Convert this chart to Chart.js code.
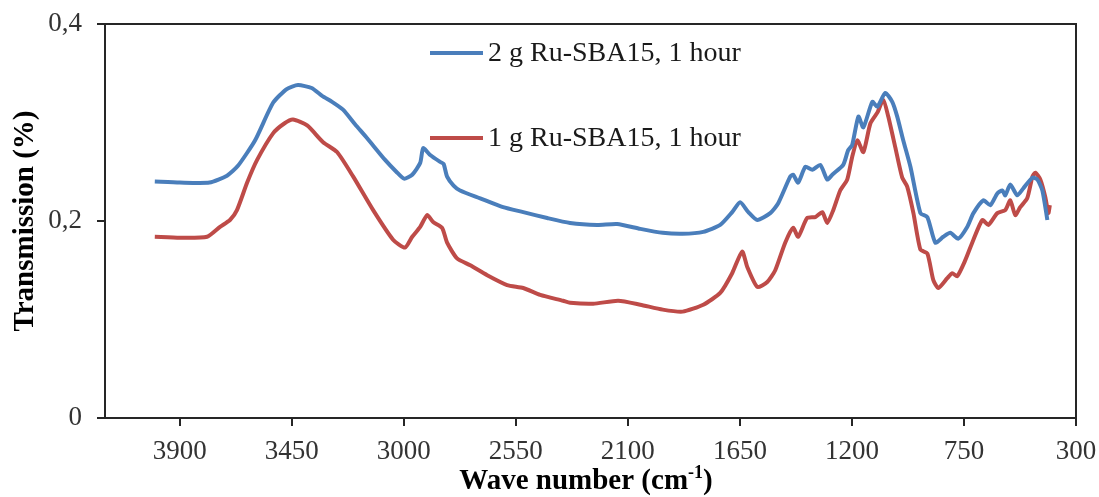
<!DOCTYPE html>
<html>
<head>
<meta charset="utf-8">
<script src="https://cdn.jsdelivr.net/npm/chart.js@4.4.1/dist/chart.umd.min.js"></script>
<style>
  body { margin: 0; background: #fff; }
  #wrap { width: 1099px; height: 497px; }
</style>
</head>
<body>
<div id="wrap"><canvas id="ftirChart" width="1099" height="497"></canvas></div>
<script>
// wave numbers (cm-1) and transmission
var blueWave = [4000, 3900, 3780, 3710, 3666, 3597, 3525, 3470, 3425, 3370, 3328, 3288, 3244, 3195, 3147, 3075, 3030, 2999, 2966, 2934, 2922, 2894, 2854, 2840, 2826, 2800, 2774, 2693, 2601, 2520, 2424, 2332, 2223, 2143, 2050, 1960, 1880, 1797, 1729, 1681, 1649, 1616, 1580, 1528, 1496, 1448, 1436, 1416, 1387, 1359, 1327, 1299, 1279, 1235, 1215, 1199, 1174, 1154, 1118, 1098, 1066, 1038, 1018, 994, 965, 925, 897, 865, 833, 805, 773, 737, 712, 672, 644, 616, 596, 584, 564, 536, 512, 475, 455, 435, 415];
var blueTrans = [0.240, 0.239, 0.239, 0.246, 0.256, 0.282, 0.320, 0.334, 0.338, 0.335, 0.327, 0.321, 0.313, 0.298, 0.284, 0.262, 0.250, 0.243, 0.247, 0.259, 0.274, 0.267, 0.260, 0.258, 0.245, 0.236, 0.231, 0.223, 0.214, 0.209, 0.203, 0.198, 0.196, 0.197, 0.192, 0.188, 0.187, 0.189, 0.196, 0.209, 0.219, 0.209, 0.201, 0.208, 0.218, 0.245, 0.247, 0.239, 0.255, 0.252, 0.257, 0.242, 0.247, 0.257, 0.272, 0.277, 0.306, 0.295, 0.321, 0.316, 0.330, 0.321, 0.306, 0.282, 0.255, 0.208, 0.204, 0.178, 0.184, 0.188, 0.182, 0.194, 0.208, 0.221, 0.216, 0.228, 0.231, 0.226, 0.237, 0.226, 0.233, 0.244, 0.242, 0.231, 0.201];

var redWave = [4000, 3900, 3790, 3738, 3698, 3670, 3629, 3589, 3525, 3480, 3445, 3388, 3324, 3268, 3203, 3123, 3043, 2995, 2966, 2934, 2906, 2882, 2846, 2826, 2786, 2733, 2665, 2585, 2520, 2452, 2360, 2332, 2239, 2139, 2050, 1960, 1880, 1797, 1729, 1681, 1641, 1620, 1580, 1540, 1508, 1468, 1436, 1416, 1380, 1347, 1319, 1299, 1275, 1247, 1219, 1199, 1178, 1154, 1126, 1098, 1074, 1054, 1026, 998, 978, 953, 925, 897, 873, 853, 817, 797, 777, 745, 712, 676, 652, 616, 584, 564, 544, 524, 496, 475, 463, 443, 423, 411, 405];
var redTrans = [0.184, 0.183, 0.184, 0.194, 0.201, 0.211, 0.239, 0.262, 0.289, 0.299, 0.303, 0.297, 0.280, 0.270, 0.245, 0.211, 0.181, 0.173, 0.184, 0.194, 0.206, 0.199, 0.193, 0.178, 0.162, 0.155, 0.145, 0.135, 0.132, 0.125, 0.119, 0.117, 0.116, 0.119, 0.115, 0.110, 0.108, 0.115, 0.127, 0.147, 0.169, 0.153, 0.133, 0.138, 0.150, 0.178, 0.193, 0.184, 0.203, 0.204, 0.209, 0.198, 0.211, 0.231, 0.242, 0.265, 0.282, 0.270, 0.299, 0.310, 0.323, 0.306, 0.275, 0.244, 0.235, 0.208, 0.171, 0.167, 0.140, 0.132, 0.142, 0.147, 0.144, 0.160, 0.181, 0.201, 0.196, 0.208, 0.211, 0.221, 0.206, 0.214, 0.223, 0.245, 0.249, 0.242, 0.224, 0.208, 0.216];

var seriesNames = ["2 g Ru-SBA15, 1 hour", "1 g Ru-SBA15, 1 hour"];
var xTickValues = [3900, 3450, 3000, 2550, 2100, 1650, 1200, 750, 300];
var yTickValues = [0, 0.2, 0.4];

var serif = "'Liberation Serif', 'Times New Roman', serif";
var axisColor = "#262626";

function toPoints(xs, ys) {
  return xs.map(function (x, i) { return { x: x, y: ys[i] }; });
}

// box lines on top and right of the plot area
var frame = {
  id: 'frame',
  afterDraw: function (chart) {
    var c = chart.ctx, a = chart.chartArea;
    c.save();
    c.strokeStyle = axisColor;
    c.lineWidth = 2;
    c.beginPath();
    c.moveTo(a.left - 8, a.top);
    c.lineTo(a.right, a.top);
    c.lineTo(a.right, a.bottom);
    c.stroke();
    c.restore();
  }
};

// legend entries placed inside the plot like the original
var innerLegend = {
  id: 'innerLegend',
  afterDraw: function (chart) {
    var c = chart.ctx;
    var rows = [53, 138];
    c.save();
    c.font = "28px " + serif;
    c.textBaseline = "middle";
    c.fillStyle = "#1a1a1a";
    chart.data.datasets.forEach(function (ds, i) {
      c.strokeStyle = ds.borderColor;
      c.lineWidth = 4;
      c.beginPath();
      c.moveTo(430, rows[i]);
      c.lineTo(483, rows[i]);
      c.stroke();
      c.fillText(ds.label, 488, rows[i] + 1);
    });
    c.restore();
  }
};

// x title with superscript -1
var xTitle = {
  id: 'xTitle',
  afterDraw: function (chart) {
    var c = chart.ctx;
    var main = "Wave number (cm", sup = "-1", end = ")";
    c.save();
    c.fillStyle = "#000";
    c.textBaseline = "alphabetic";
    c.font = "bold 29px " + serif;
    var w1 = c.measureText(main).width, w3 = c.measureText(end).width;
    c.font = "bold 18px " + serif;
    var w2 = c.measureText(sup).width;
    var x = 586 - (w1 + w2 + w3) / 2, y = 489;
    c.font = "bold 29px " + serif;
    c.fillText(main, x, y);
    c.font = "bold 18px " + serif;
    c.fillText(sup, x + w1, y - 11);
    c.font = "bold 29px " + serif;
    c.fillText(end, x + w1 + w2, y);
    c.restore();
  }
};

var ctx = document.getElementById("ftirChart").getContext('2d');
var ftirChart = new Chart(ctx, {
  type: 'scatter',
  data: {
    datasets: [{
      label: seriesNames[0],
      data: toPoints(blueWave, blueTrans),
      borderColor: "#4A7EBB",
      backgroundColor: "#4A7EBB",
      showLine: true,
      borderWidth: 4,
      pointRadius: 0,
      tension: 0.2
    }, {
      label: seriesNames[1],
      data: toPoints(redWave, redTrans),
      borderColor: "#BE4B48",
      backgroundColor: "#BE4B48",
      showLine: true,
      borderWidth: 4,
      pointRadius: 0,
      tension: 0.2
    }]
  },
  options: {
    responsive: false,
    animation: false,
    layout: { padding: { top: 24, right: 23, left: 0, bottom: 0 } },
    plugins: {
      legend: { display: false },
      tooltip: { enabled: false }
    },
    scales: {
      x: {
        type: 'linear',
        reverse: true,
        min: 300,
        max: 4200,
        afterBuildTicks: function (axis) {
          axis.ticks = xTickValues.map(function (v) { return { value: v }; });
        },
        afterFit: function (axis) {
          axis.height = 79;
          axis.paddingLeft = 0;
          axis.paddingRight = 0;
        },
        grid: { drawOnChartArea: false, drawTicks: true, tickLength: 8, color: axisColor, lineWidth: 2 },
        border: { display: true, color: axisColor, width: 2 },
        ticks: {
          font: { family: serif, size: 27 },
          color: "#333",
          padding: 10,
          maxRotation: 0,
          autoSkip: false,
          callback: function (v) { return String(v); }
        }
      },
      y: {
        min: 0,
        max: 0.4,
        afterBuildTicks: function (axis) {
          axis.ticks = yTickValues.map(function (v) { return { value: v }; });
        },
        afterFit: function (axis) {
          axis.width = 105;
          axis.paddingTop = 0;
          axis.paddingBottom = 0;
        },
        grid: { drawOnChartArea: false, drawTicks: true, tickLength: 8, color: axisColor, lineWidth: 2 },
        border: { display: true, color: axisColor, width: 2 },
        ticks: {
          font: { family: serif, size: 27 },
          color: "#333",
          padding: 15,
          callback: function (v) { return v === 0 ? "0" : v.toFixed(1).replace(".", ","); }
        },
        title: {
          display: true,
          text: "Transmission (%)",
          color: "#000",
          font: { family: serif, size: 29, weight: 'bold' },
          padding: { top: 8, bottom: 0 }
        }
      }
    }
  },
  plugins: [frame, innerLegend, xTitle]
});
</script>
</body>
</html>
